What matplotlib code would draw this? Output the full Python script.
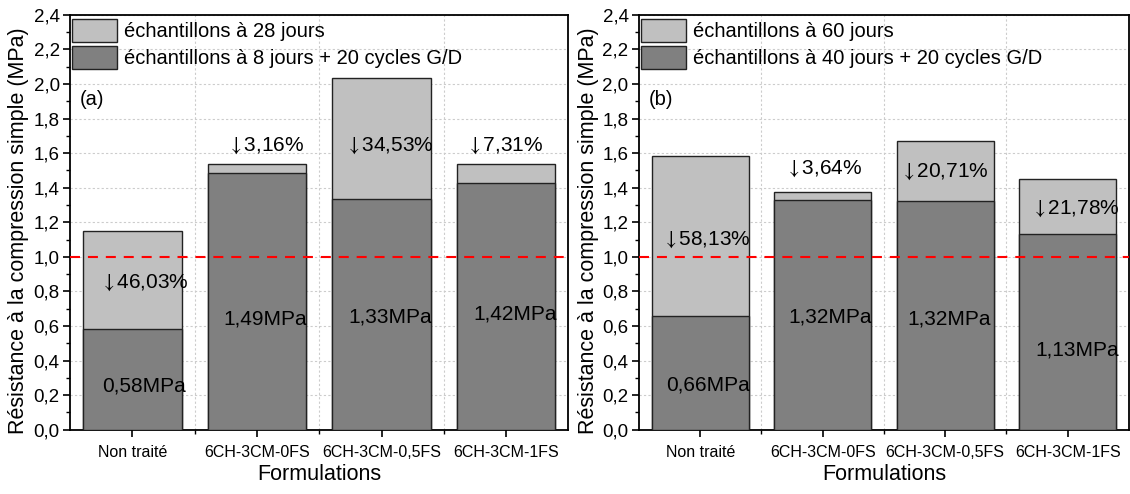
#!/usr/bin/env python3
"""
Résistance à la compression simple : échantillons témoins vs. après 20 cycles G/D.
Deux panneaux (a) 28 j / 8 j + cycles, (b) 60 j / 40 j + cycles.
"""
import matplotlib

matplotlib.use("Agg")
import matplotlib.pyplot as plt
from matplotlib.ticker import FuncFormatter, MultipleLocator
from matplotlib.patches import Patch

plt.rcParams["font.family"] = ["Liberation Sans", "DejaVu Sans"]
plt.rcParams["mathtext.fontset"] = "stix"

CATEGORIES = ["Non traité", "6CH-3CM-0FS", "6CH-3CM-0,5FS", "6CH-3CM-1FS"]

# panneau (a)
A_REF = [1.15, 1.537, 2.035, 1.537]      # 28 jours
A_GD = [0.58, 1.486, 1.332, 1.427]       # 8 jours + 20 cycles G/D
A_PCT = ["46,03%", "3,16%", "34,53%", "7,31%"]
A_MPA = ["0,58MPa", "1,49MPa", "1,33MPa", "1,42MPa"]

# panneau (b)
B_REF = [1.585, 1.378, 1.67, 1.452]      # 60 jours
B_GD = [0.66, 1.328, 1.326, 1.135]       # 40 jours + 20 cycles G/D
B_PCT = ["58,13%", "3,64%", "20,71%", "21,78%"]
B_MPA = ["0,66MPa", "1,32MPa", "1,32MPa", "1,13MPa"]

LIGHT = "#c0c0c0"
DARK = "#808080"
EDGE = "#222222"


def comma(v, _pos):
    return f"{v:.1f}".replace(".", ",")


def draw_panel(ax, ref, gd, pct, mpa, pct_pos, mpa_pos, legend_labels, tag):
    xs = range(len(CATEGORIES))
    ax.bar(xs, ref, width=0.79, color=LIGHT, edgecolor=EDGE, lw=1.0, zorder=2)
    ax.bar(xs, gd, width=0.79, color=DARK, edgecolor=EDGE, lw=1.0, zorder=3)
    ax.axhline(1.0, color="red", ls=(0, (4.8, 3.8)), lw=1.5, zorder=4)

    # flèche ↓ en mathtext (stix) : plus haute et fine, comme l'original
    for t, (x, y) in zip(pct, pct_pos):
        ax.text(x, y, r"$\downarrow$" + t, ha="center", va="center", fontsize=15, zorder=5)
    for t, (x, y) in zip(mpa, mpa_pos):
        ax.text(x, y, t, ha="center", va="center", fontsize=15, zorder=5)
    ax.text(-0.42, 1.91, tag, ha="left", va="center", fontsize=14.5)

    ax.set_xlim(-0.5, 3.5)
    ax.set_ylim(0, 2.4)
    ax.set_xticks(list(xs))
    ax.set_xticklabels(CATEGORIES, fontsize=11.5)
    ax.set_xticks([0.5, 1.5, 2.5], minor=True)
    ax.yaxis.set_major_locator(MultipleLocator(0.2))
    ax.yaxis.set_minor_locator(MultipleLocator(0.1))
    ax.yaxis.set_major_formatter(FuncFormatter(comma))
    ax.tick_params(axis="y", labelsize=13.5, direction="out", length=5, width=1.2, pad=2.5)
    ax.tick_params(axis="y", which="minor", direction="out", length=3, width=1.0)
    ax.tick_params(axis="x", direction="out", length=5, width=1.2, pad=6)
    ax.tick_params(axis="x", which="minor", direction="out", length=3, width=1.0)
    ax.grid(True, axis="y", which="major", color="#cccccc", ls=(0, (2, 2)), lw=0.8, zorder=0)
    ax.grid(True, axis="x", which="minor", color="#cccccc", ls=(0, (2, 2)), lw=0.8, zorder=0)
    ax.set_axisbelow(True)
    for sp in ax.spines.values():
        sp.set_linewidth(1.3)

    ax.set_xlabel("Formulations", fontsize=15.5, labelpad=3)
    ax.set_ylabel("Résistance à la compression simple (MPa)", fontsize=15.5)
    ax.yaxis.set_label_coords(-0.082, 0.48)

    handles = [
        Patch(facecolor=LIGHT, edgecolor=EDGE, lw=1.0),
        Patch(facecolor=DARK, edgecolor=EDGE, lw=1.0),
    ]
    ax.legend(handles, legend_labels, loc="upper left", bbox_to_anchor=(0.0, 0.995),
              frameon=False, fontsize=14.5,
              handlelength=2.25, handleheight=1.35, handletextpad=0.35,
              labelspacing=0.22, borderaxespad=0.0, borderpad=0.1)


def main():
    fig = plt.figure(figsize=(11.3, 4.94), dpi=100)
    ax_a = fig.add_axes([0.062, 0.130, 0.441, 0.840])
    ax_b = fig.add_axes([0.5655, 0.130, 0.4335, 0.840])

    draw_panel(
        ax_a, A_REF, A_GD, A_PCT, A_MPA,
        pct_pos=[(0.10, 0.85), (1.07, 1.64), (2.06, 1.64), (2.99, 1.64)],
        mpa_pos=[(0.09, 0.255), (1.07, 0.64), (2.07, 0.65), (3.07, 0.67)],
        legend_labels=["échantillons à 28 jours",
                       "échantillons à 8 jours + 20 cycles G/D"],
        tag="(a)",
    )
    draw_panel(
        ax_b, B_REF, B_GD, B_PCT, B_MPA,
        pct_pos=[(0.05, 1.10), (1.01, 1.51), (1.99, 1.49), (3.06, 1.28)],
        mpa_pos=[(0.06, 0.26), (1.06, 0.65), (2.03, 0.64), (3.08, 0.46)],
        legend_labels=["échantillons à 60 jours",
                       "échantillons à 40 jours + 20 cycles G/D"],
        tag="(b)",
    )

    fig.savefig("out.png", dpi=100)
    plt.close(fig)


if __name__ == "__main__":
    main()
